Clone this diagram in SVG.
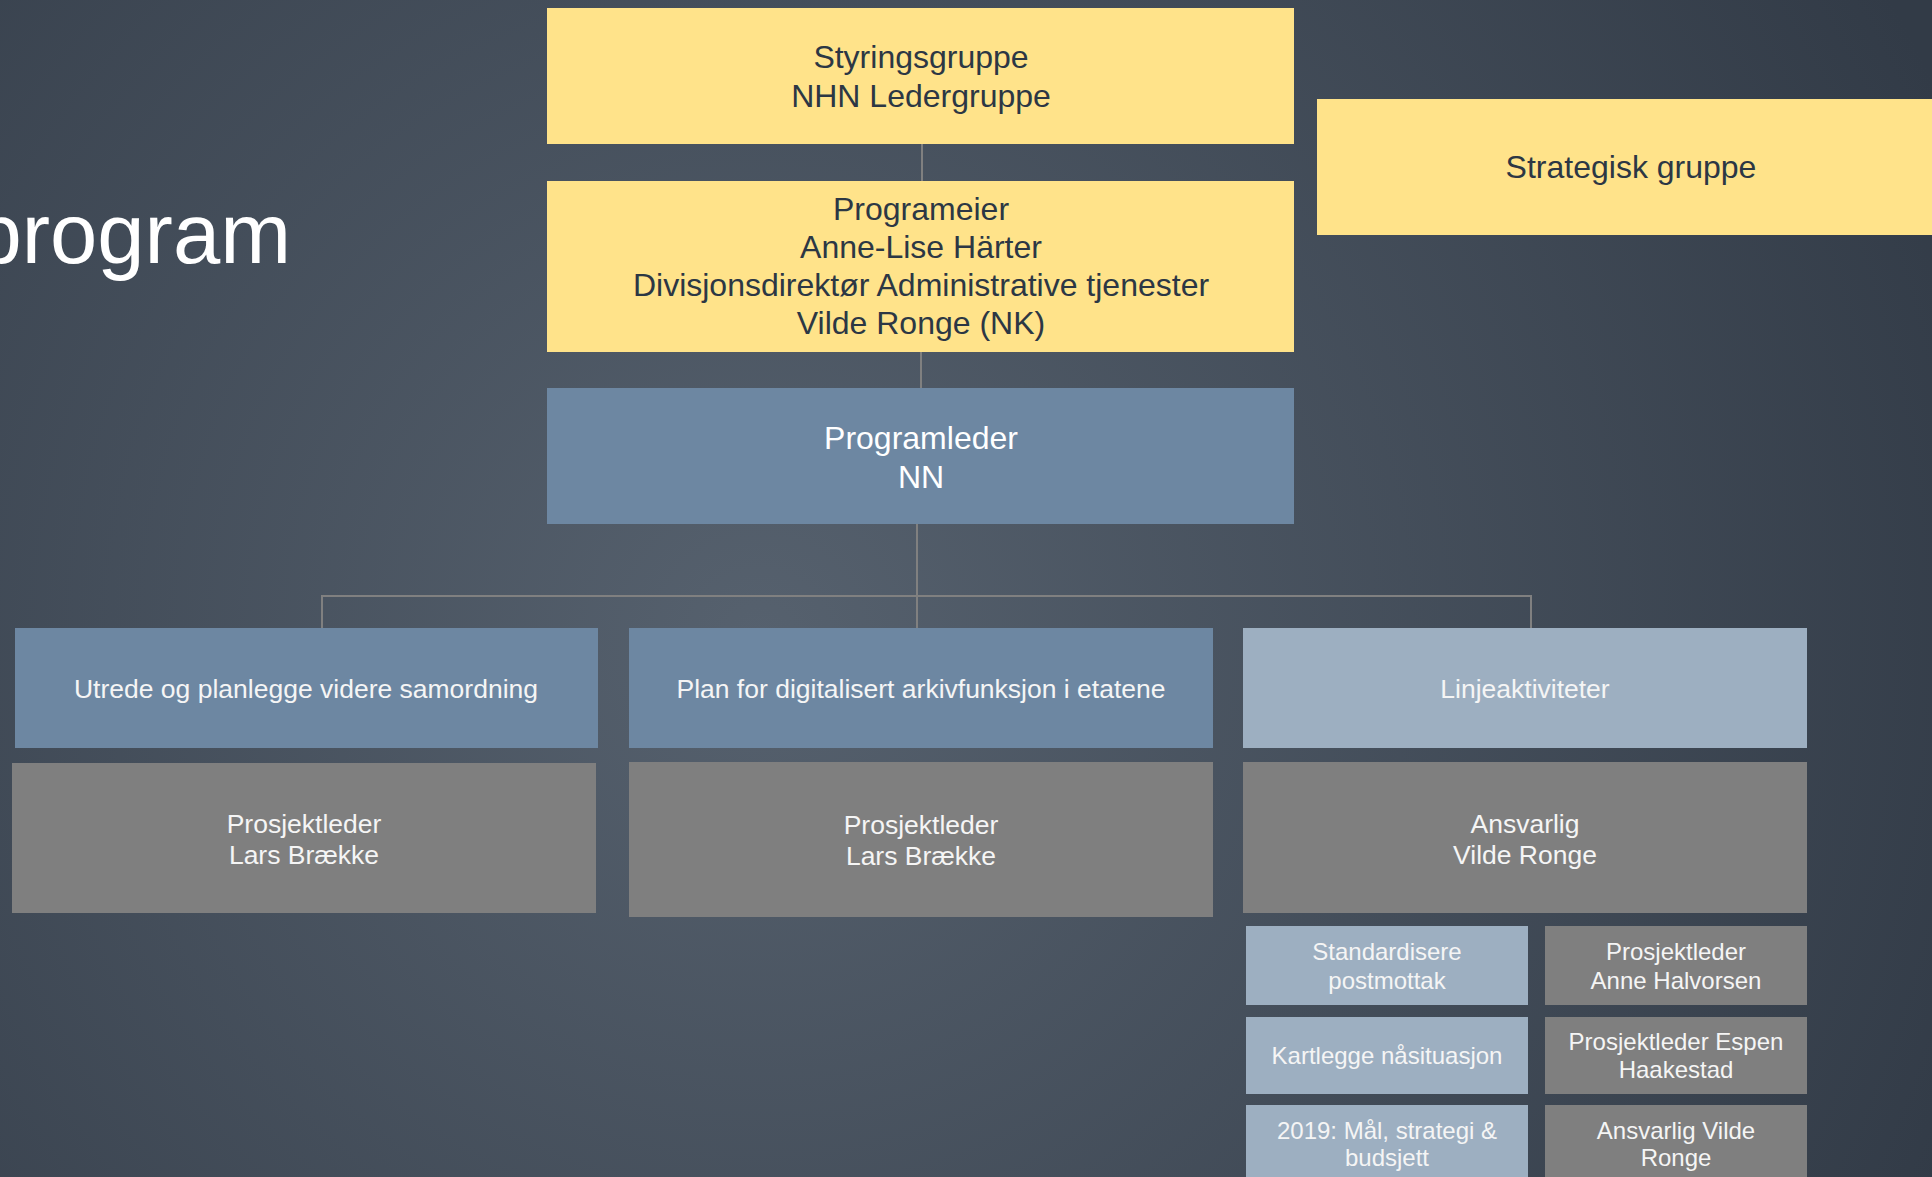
<svg xmlns="http://www.w3.org/2000/svg" width="1932" height="1177" viewBox="0 0 1932 1177">
<defs>
<radialGradient id="bg" gradientUnits="userSpaceOnUse" cx="760" cy="640" r="1300">
<stop offset="0" stop-color="#56616e"/>
<stop offset="1" stop-color="#323b47"/>
</radialGradient>
<style>
text{font-family:"Liberation Sans",Arial,sans-serif;text-anchor:middle}
.y{fill:#FFE38A}
.b{fill:#6D87A2}
.lb{fill:#9DAFC1}
.g{fill:#7F7F7F}
.ty{fill:#2C3744;font-size:32px}
.tw{fill:#FFFFFF;font-size:32px}
.t2{fill:#F5F5F5;font-size:26.5px}
.t3{fill:#F5F5F5;font-size:24px}
.c{stroke:#808080;stroke-width:2;fill:none}
</style>
</defs>
<rect width="1932" height="1177" fill="url(#bg)"/>
<text x="291" y="263" style="font-size:85px;text-anchor:end" fill="#FFFFFF">program</text>

<g id="connectors">
<line class="c" x1="922" y1="141" x2="922" y2="186"/>
<line class="c" x1="921" y1="348" x2="921" y2="396"/>
<line class="c" x1="917" y1="524" x2="917" y2="628"/>
<polyline class="c" points="322,641 322,596 1531,596 1531,628"/>
</g>

<g id="styringsgruppe">
<rect class="y" x="547" y="8" width="747" height="136"/>
<text class="ty" x="921" y="68">Styringsgruppe</text>
<text class="ty" x="921" y="107">NHN Ledergruppe</text>
</g>
<g id="strategisk">
<rect class="y" x="1317" y="99" width="615" height="136"/>
<text class="ty" x="1631" y="178">Strategisk gruppe</text>
</g>
<g id="programeier">
<rect class="y" x="547" y="181" width="747" height="171"/>
<text class="ty" x="921" y="220">Programeier</text>
<text class="ty" x="921" y="258">Anne-Lise Härter</text>
<text class="ty" x="921" y="296">Divisjonsdirektør Administrative tjenester</text>
<text class="ty" x="921" y="334">Vilde Ronge (NK)</text>
</g>
<g id="programleder">
<rect class="b" x="547" y="388" width="747" height="136"/>
<text class="tw" x="921" y="449">Programleder</text>
<text class="tw" x="921" y="488">NN</text>
</g>

<g id="utrede">
<rect class="b" x="15" y="628" width="583" height="120"/>
<text class="t2" x="306" y="698">Utrede og planlegge videre samordning</text>
</g>
<g id="utrede-leder">
<rect class="g" x="12" y="763" width="584" height="150"/>
<text class="t2" x="304" y="833">Prosjektleder</text>
<text class="t2" x="304" y="864">Lars Brække</text>
</g>
<g id="plan">
<rect class="b" x="629" y="628" width="584" height="120"/>
<text class="t2" x="921" y="698">Plan for digitalisert arkivfunksjon i etatene</text>
</g>
<g id="plan-leder">
<rect class="g" x="629" y="762" width="584" height="155"/>
<text class="t2" x="921" y="834">Prosjektleder</text>
<text class="t2" x="921" y="865">Lars Brække</text>
</g>
<g id="linje">
<rect class="lb" x="1243" y="628" width="564" height="120"/>
<text class="t2" x="1525" y="698">Linjeaktiviteter</text>
</g>
<g id="linje-ansvarlig">
<rect class="g" x="1243" y="762" width="564" height="151"/>
<text class="t2" x="1525" y="833">Ansvarlig</text>
<text class="t2" x="1525" y="864">Vilde Ronge</text>
</g>

<g id="standardisere">
<rect class="lb" x="1246" y="926" width="282" height="79"/>
<text class="t3" x="1387" y="960">Standardisere</text>
<text class="t3" x="1387" y="989">postmottak</text>
</g>
<g id="anne">
<rect class="g" x="1545" y="926" width="262" height="79"/>
<text class="t3" x="1676" y="960">Prosjektleder</text>
<text class="t3" x="1676" y="989">Anne Halvorsen</text>
</g>
<g id="kartlegge">
<rect class="lb" x="1246" y="1017" width="282" height="77"/>
<text class="t3" x="1387" y="1064">Kartlegge nåsituasjon</text>
</g>
<g id="espen">
<rect class="g" x="1545" y="1017" width="262" height="77"/>
<text class="t3" x="1676" y="1050">Prosjektleder Espen</text>
<text class="t3" x="1676" y="1078">Haakestad</text>
</g>
<g id="maal">
<rect class="lb" x="1246" y="1105" width="282" height="78"/>
<text class="t3" x="1387" y="1139">2019: Mål, strategi &amp;</text>
<text class="t3" x="1387" y="1166">budsjett</text>
</g>
<g id="vilde">
<rect class="g" x="1545" y="1105" width="262" height="78"/>
<text class="t3" x="1676" y="1139">Ansvarlig Vilde</text>
<text class="t3" x="1676" y="1166">Ronge</text>
</g>
</svg>
